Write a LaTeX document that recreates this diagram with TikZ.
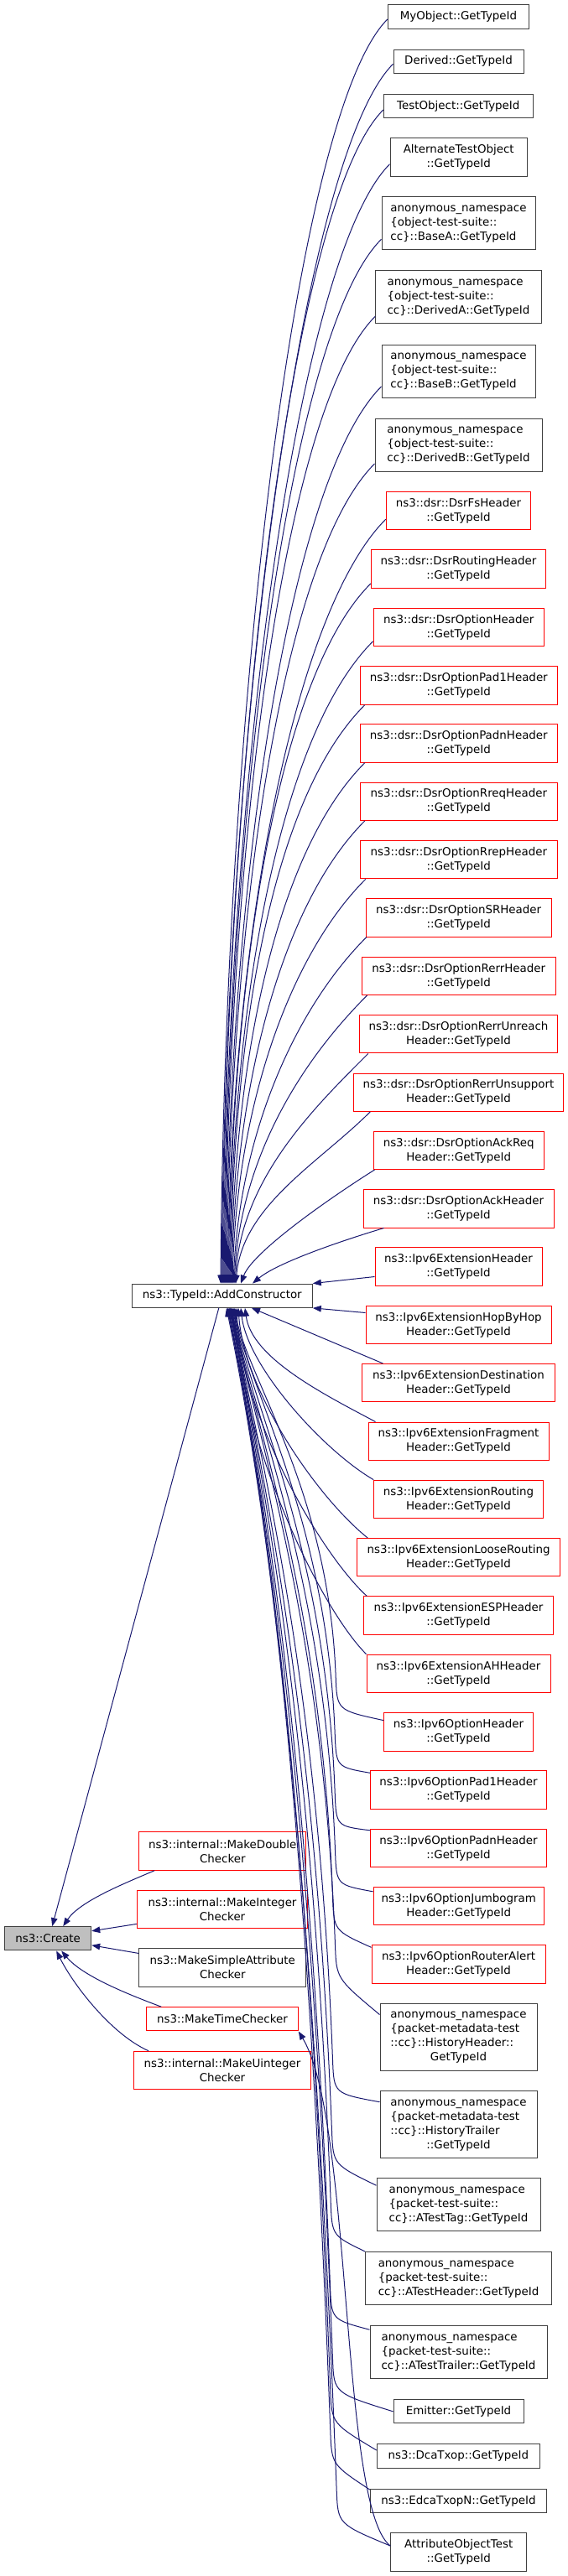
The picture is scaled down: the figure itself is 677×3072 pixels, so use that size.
\documentclass[tikz,border=0pt]{standalone}
\usepackage{fontspec}
\newfontfamily\dvs{DejaVu Sans}
\usetikzlibrary{arrows.meta,calc}
\definecolor{edgeblue}{HTML}{191970}
\definecolor{nodegray}{HTML}{404040}
\definecolor{nodered}{HTML}{FF0000}
\definecolor{createfill}{HTML}{BFBFBF}
\tikzset{
  box/.style={draw=nodegray, fill=white, line width=1pt, inner sep=0pt, align=center,
     font=\dvs\fontsize{13.4pt}{17pt}\selectfont},
  rbox/.style={box, draw=nodered},
  h1/.style={minimum height=28.3pt},
  h2/.style={minimum height=45.4pt},
  h3/.style={minimum height=63pt},
  h4/.style={minimum height=80pt},
  edge/.style={draw=edgeblue, line width=1pt, -{Triangle[length=10pt,width=7.5pt]}},
}
\newcommand\anonthree[3]{\begin{tabular}{@{}l@{}}#1\\#2\\#3\end{tabular}}
\newcommand\anonfour[4]{\begin{tabular}{@{}l@{}}#1\\#2\\#3\\\multicolumn{1}{@{}c@{}}{#4}\end{tabular}}
% two-part edge: start, bend offset, first control offset (from bend), target, second control offset (from target)
\newcommand\bentedge[5]{%
  \path #1 coordinate (eS) ++#2 coordinate (eJ) ++#3 coordinate (eP);
  \path #4 coordinate (eT) ++#5 coordinate (eQ);
  \draw[edge] (eS) .. controls ($(eJ)!-40pt!(eP)$) .. (eJ) .. controls (eP) and (eQ) .. (eT);}
\newcommand\topedge[5]{%
  \draw[edge] #1 .. controls +(-#2,#2) and +(#3,-#4) .. ([xshift=#5pt]addc.north);}
\begin{document}
\begin{tikzpicture}[x=1pt,y=-1pt]
\useasboundingbox (0,0) rectangle (677,3072);
\fill[white] (0,0) rectangle (677,3072);

% ---------- right column ----------
\node[box,h1,minimum width=168.4pt] (myobj) at (546.5,20) {MyObject::GetTypeId};
\node[box,h1,minimum width=155pt] (derived) at (546.5,73.3) {Derived::GetTypeId};
\node[box,h1,minimum width=178pt] (testobj) at (546.3,126.5) {TestObject::GetTypeId};
\node[box,h2,minimum width=163.3pt] (alt) at (546.7,187.7) {AlternateTestObject\\::GetTypeId};
\node[box,h3,minimum width=183pt] (baseA) at (546.5,266.3) {\anonthree{anonymous\_namespace}{\{object-test-suite::}{cc\}::BaseA::GetTypeId}};
\node[box,h3,minimum width=197.6pt] (derivedA) at (546.5,354.3) {\anonthree{anonymous\_namespace}{\{object-test-suite::}{cc\}::DerivedA::GetTypeId}};
\node[box,h3,minimum width=183pt] (baseB) at (546.5,442.5) {\anonthree{anonymous\_namespace}{\{object-test-suite::}{cc\}::BaseB::GetTypeId}};
\node[box,h3,minimum width=199pt] (derivedB) at (546.5,530.5) {\anonthree{anonymous\_namespace}{\{object-test-suite::}{cc\}::DerivedB::GetTypeId}};
\node[rbox,h2,minimum width=172.4pt] (dsrfs) at (546.5,609.2) {ns3::dsr::DsrFsHeader\\::GetTypeId};
\node[rbox,h2,minimum width=208.4pt] (dsrrouting) at (546.5,678.5) {ns3::dsr::DsrRoutingHeader\\::GetTypeId};
\node[rbox,h2,minimum width=203.3pt] (dsropt) at (546.7,747.8) {ns3::dsr::DsrOptionHeader\\::GetTypeId};
\node[rbox,h2,minimum width=235pt] (pad1) at (546.8,817.5) {ns3::dsr::DsrOptionPad1Header\\::GetTypeId};
\node[rbox,h2,minimum width=235pt] (padn) at (546.8,886.5) {ns3::dsr::DsrOptionPadnHeader\\::GetTypeId};
\node[rbox,h2,minimum width=235pt] (rreq) at (546.8,955.7) {ns3::dsr::DsrOptionRreqHeader\\::GetTypeId};
\node[rbox,h2,minimum width=235pt] (rrep) at (546.8,1025.2) {ns3::dsr::DsrOptionRrepHeader\\::GetTypeId};
\node[rbox,h2,minimum width=220.7pt] (sr) at (546.7,1094.3) {ns3::dsr::DsrOptionSRHeader\\::GetTypeId};
\node[rbox,h2,minimum width=231.3pt] (rerr) at (546.7,1163.8) {ns3::dsr::DsrOptionRerrHeader\\::GetTypeId};
\node[rbox,h2,minimum width=236.4pt] (unreach) at (546.5,1233.2) {ns3::dsr::DsrOptionRerrUnreach\\Header::GetTypeId};
\node[rbox,h2,minimum width=249.6pt] (unsupp) at (546.5,1302.7) {ns3::dsr::DsrOptionRerrUnsupport\\Header::GetTypeId};
\node[rbox,h2,minimum width=203.3pt] (ackreq) at (546.7,1371.8) {ns3::dsr::DsrOptionAckReq\\Header::GetTypeId};
\node[rbox,h2,minimum width=227pt] (ack) at (546.5,1441.3) {ns3::dsr::DsrOptionAckHeader\\::GetTypeId};
\node[rbox,h2,minimum width=199pt] (extH) at (546.5,1510.5) {ns3::Ipv6ExtensionHeader\\::GetTypeId};
\node[rbox,h2,minimum width=221pt] (hbh) at (546.5,1580) {ns3::Ipv6ExtensionHopByHop\\Header::GetTypeId};
\node[rbox,h2,minimum width=229.6pt] (dest) at (546.5,1649.2) {ns3::Ipv6ExtensionDestination\\Header::GetTypeId};
\node[rbox,h2,minimum width=215pt] (frag) at (546.5,1718.7) {ns3::Ipv6ExtensionFragment\\Header::GetTypeId};
\node[rbox,h2,minimum width=201.6pt] (rout) at (546.5,1787.8) {ns3::Ipv6ExtensionRouting\\Header::GetTypeId};
\node[rbox,h2,minimum width=241.6pt] (loose) at (546.5,1857.2) {ns3::Ipv6ExtensionLooseRouting\\Header::GetTypeId};
\node[rbox,h2,minimum width=225.6pt] (esp) at (546.5,1926.5) {ns3::Ipv6ExtensionESPHeader\\::GetTypeId};
\node[rbox,h2,minimum width=219pt] (ah) at (546.5,1995.8) {ns3::Ipv6ExtensionAHHeader\\::GetTypeId};
\node[rbox,h2,minimum width=177.6pt] (opth) at (546.5,2065.3) {ns3::Ipv6OptionHeader\\::GetTypeId};
\node[rbox,h2,minimum width=209.6pt] (opad1) at (546.5,2134.5) {ns3::Ipv6OptionPad1Header\\::GetTypeId};
\node[rbox,h2,minimum width=209.6pt] (opadn) at (546.5,2204) {ns3::Ipv6OptionPadnHeader\\::GetTypeId};
\node[rbox,h2,minimum width=203.3pt] (jumbo) at (546.7,2273) {ns3::Ipv6OptionJumbogram\\Header::GetTypeId};
\node[rbox,h2,minimum width=207pt] (ralert) at (546.5,2342.5) {ns3::Ipv6OptionRouterAlert\\Header::GetTypeId};
\node[box,h4,minimum width=187pt] (histH) at (546.5,2429) {\anonfour{anonymous\_namespace}{\{packet-metadata-test}{::cc\}::HistoryHeader::}{GetTypeId}};
\node[box,h4,minimum width=187pt] (histT) at (546.5,2533.2) {\anonfour{anonymous\_namespace}{\{packet-metadata-test}{::cc\}::HistoryTrailer}{::GetTypeId}};
\node[box,h3,minimum width=195pt] (atag) at (546.5,2629.2) {\anonthree{anonymous\_namespace}{\{packet-test-suite::}{cc\}::ATestTag::GetTypeId}};
\node[box,h3,minimum width=221.6pt] (ahdr) at (546.5,2717) {\anonthree{anonymous\_namespace}{\{packet-test-suite::}{cc\}::ATestHeader::GetTypeId}};
\node[box,h3,minimum width=211pt] (atrl) at (546.5,2805.2) {\anonthree{anonymous\_namespace}{\{packet-test-suite::}{cc\}::ATestTrailer::GetTypeId}};
\node[box,h1,minimum width=155pt] (emitter) at (546.5,2875.8) {Emitter::GetTypeId};
\node[box,h1,minimum width=194pt] (dca) at (546.3,2929) {ns3::DcaTxop::GetTypeId};
\node[box,h1,minimum width=210.4pt] (edca) at (546.5,2982.7) {ns3::EdcaTxopN::GetTypeId};
\node[box,h2,minimum width=162pt] (attr) at (546.7,3043.5) {AttributeObjectTest\\::GetTypeId};

% ---------- left part ----------
\node[box,h1,minimum width=215pt] (addc) at (264.8,1545.2) {ns3::TypeId::AddConstructor};
\node[box,h1,minimum width=103pt,fill=createfill] (create) at (57.2,2311.8) {ns3::Create};
\node[rbox,h2,minimum width=199.3pt] (mdouble) at (265.3,2207.5) {ns3::internal::MakeDouble\\Checker};
\node[rbox,h2,minimum width=203.4pt] (minteger) at (265,2277.2) {ns3::internal::MakeInteger\\Checker};
\node[box,h2,minimum width=199.3pt] (msimple) at (265.3,2346.3) {ns3::MakeSimpleAttribute\\Checker};
\node[rbox,h1,minimum width=180.6pt] (mtime) at (265,2407.8) {ns3::MakeTimeChecker};
\node[rbox,h2,minimum width=210.6pt] (muint) at (265,2469) {ns3::internal::MakeUinteger\\Checker};

% ---------- edges into AddConstructor (top) ----------
\topedge{([yshift=-3pt]myobj.west)}{110}{5}{679}{-1.8}
\topedge{([yshift=-3pt]derived.west)}{110}{5}{655}{-0.8}
\topedge{([yshift=-4.5pt]testobj.west)}{110}{5}{630}{0.2}
\topedge{([yshift=-8pt]alt.west)}{110}{5}{601}{1.2}
\topedge{([yshift=-19pt]baseA.west)}{110}{5}{561}{2.2}
\topedge{([yshift=-23pt]derivedA.west)}{110}{5}{519}{3.2}
\topedge{([yshift=-18.5pt]baseB.west)}{110}{5}{482}{4.2}
\topedge{([yshift=-22.5pt]derivedB.west)}{110}{5}{440}{5.2}
\topedge{([yshift=-10pt]dsrfs.west)}{110}{5}{410}{6.2}
\topedge{([yshift=-17.5pt]dsrrouting.west)}{110}{5}{376}{7.2}
\topedge{([yshift=-17pt]dsropt.west)}{110}{5}{345}{8.2}
\topedge{([xshift=6pt]pad1.south west)}{109}{5}{311}{9.2}
\topedge{([xshift=6pt]padn.south west)}{102}{5}{280}{10.2}
\topedge{([xshift=6pt]rreq.south west)}{95}{5}{249}{11.2}
\topedge{([xshift=7pt]rrep.south west)}{88}{5}{217}{12.2}
\topedge{([xshift=1pt]sr.south west)}{81}{8}{186}{13.2}
\topedge{([xshift=7pt]rerr.south west)}{74}{8}{155}{14.2}
\topedge{([xshift=11pt]unreach.south west)}{68}{8}{124}{15.2}
\topedge{([xshift=20pt]unsupp.south west)}{61}{8}{93}{16.2}
\draw[edge] ([xshift=2pt]ackreq.south west) .. controls +(-40,25) and +(15,-40) .. ([xshift=22.2pt]addc.north);
\draw[edge] ([xshift=25pt]ack.south west) .. controls +(-50,15) and +(30,-25) .. ([xshift=36.2pt]addc.north);
\draw[edge] ([yshift=-12pt]extH.west) -- (addc.north east);

% ---------- edges into AddConstructor (bottom) ----------
\draw[edge] ([yshift=-8.7pt]hbh.north west) -- (addc.south east);
\draw[edge] ([xshift=25.3pt]dest.north west) -- ([xshift=35.2pt]addc.south);
\draw[edge] ([xshift=9pt]frag.north west) .. controls +(-60,-32) and +(8,60) .. ([xshift=27.2pt]addc.south);
\draw[edge] (rout.north west) .. controls +(-60,-35) and +(8,70) .. ([xshift=22.2pt]addc.south);
\draw[edge] ([xshift=13pt]loose.north west) .. controls +(-60,-48) and +(7,100) .. ([xshift=19.2pt]addc.south);
\draw[edge] ([xshift=4pt]esp.north west) .. controls +(-55,-50) and +(6,130) .. ([xshift=17.2pt]addc.south);
\draw[edge] (ah.north west) .. controls +(-55,-55) and +(6,160) .. ([xshift=15.2pt]addc.south);
\bentedge{([yshift=-9.5pt]opth.north west)}{(-57,-52)}{(-8,-220)}{([xshift=14.2pt]addc.south)}{(18,88)}
\bentedge{([yshift=-3pt]opad1.north west)}{(-42,-47)}{(-10,-255)}{([xshift=13.2pt]addc.south)}{(21,102)}
\bentedge{([yshift=-2pt]opadn.north west)}{(-42,-45)}{(-11,-290)}{([xshift=12.2pt]addc.south)}{(24,116)}
\bentedge{([yshift=-6pt]jumbo.north west)}{(-45,-48)}{(-12,-325)}{([xshift=11.2pt]addc.south)}{(27,130)}
\bentedge{([yshift=-3pt]ralert.north west)}{(-46,-60)}{(-13,-352)}{([xshift=10.7pt]addc.south)}{(29,141)}
\bentedge{([yshift=-14pt]histH.north west)}{(-53,-83)}{(-14,-380)}{([xshift=10.2pt]addc.south)}{(31,152)}
\bentedge{([yshift=-14pt]histT.north west)}{(-56,-50)}{(-17,-450)}{([xshift=9.7pt]addc.south)}{(37,180)}
\bentedge{([yshift=-9pt]atag.north west)}{(-53,-65)}{(-19,-492)}{([xshift=9.2pt]addc.south)}{(40,197)}
\bentedge{(ahdr.north west)}{(-41,-59)}{(-20,-534)}{([xshift=8.7pt]addc.south)}{(44,214)}
\bentedge{([yshift=-5pt]atrl.north west)}{(-47,-52)}{(-22,-585)}{([xshift=8.2pt]addc.south)}{(48,234)}
\bentedge{(emitter.west)}{(-72,-62)}{(-24,-628)}{([xshift=7.2pt]addc.south)}{(51,251)}
\bentedge{([yshift=7pt]dca.west)}{(-55,-72)}{(-25,-646)}{([xshift=6.7pt]addc.south)}{(53,258)}
\bentedge{([yshift=-1pt]edca.north west)}{(-47,-70)}{(-25,-670)}{([xshift=6.2pt]addc.south)}{(55,268)}
\bentedge{([yshift=7.5pt]attr.west)}{(-64,-66)}{(-27,-707)}{([xshift=5.2pt]addc.south)}{(58,283)}

% ---------- AttributeObjectTest -> MakeTimeChecker ----------
\draw[edge] ([yshift=7.5pt]attr.west) .. controls +(-60,-46) and +(65,108) .. (mtime.south east);

% ---------- edges into Create ----------
\draw[edge] ([xshift=-4pt]addc.south) -- ([xshift=5pt]create.north);
\draw[edge] ([xshift=19pt]mdouble.south west) .. controls +(-35,15) and +(20,-30) .. ([xshift=18pt]create.north);
\draw[edge] ([yshift=6pt]minteger.south west) -- ([yshift=9pt]create.east);
\draw[edge] ([yshift=-6.3pt]msimple.north west) -- ([yshift=-8pt]create.east);
\draw[edge] ([xshift=18pt]mtime.north west) .. controls +(-40,-15) and +(25,30) .. ([xshift=16pt]create.south);
\draw[edge] ([xshift=18pt]muint.north west) .. controls +(-45,-20) and +(20,40) .. ([xshift=10pt]create.south);
\end{tikzpicture}
\end{document}
